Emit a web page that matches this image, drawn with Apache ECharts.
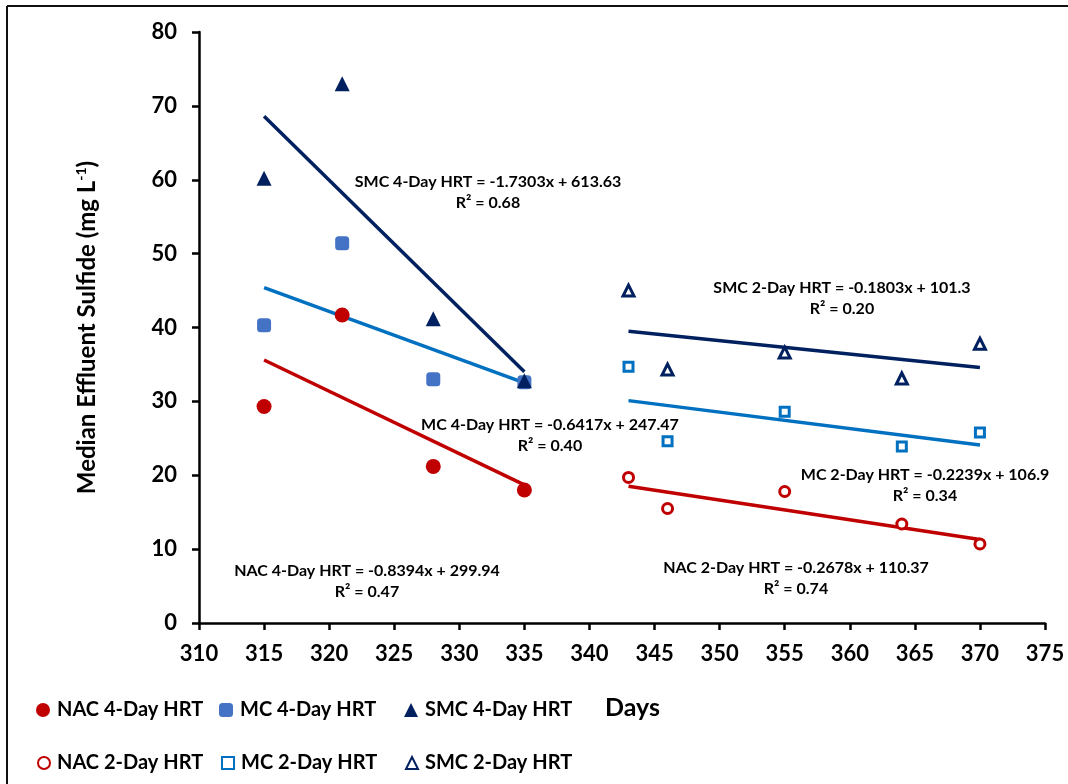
<!DOCTYPE html>
<html>
<head>
    <meta charset="utf-8">
    <title>Median Effluent Sulfide</title>
    <script src="https://cdn.jsdelivr.net/npm/echarts@6/dist/echarts.min.js"></script>
    <style>
        body { margin: 0; background: #fff; }
    </style>
</head>
<body>
    <div id="main" style="width:1068px; height:784px;"></div>
    <script>
        // days of sampling
        var days4 = [315, 321, 328, 335]
        var days2 = [343, 346, 355, 364, 370]

        // median effluent sulfide, mg/L
        var nac4 = [29.3, 41.7, 21.2, 18.0]
        var mc4 = [40.3, 51.4, 33.0, 32.6]
        var smc4 = [60.2, 73.0, 41.2, 32.8]
        var nac2 = [19.7, 15.5, 17.8, 13.4, 10.7]
        var mc2 = [34.7, 24.6, 28.6, 23.9, 25.8]
        var smc2 = [45.0, 34.3, 36.6, 33.1, 37.8]

        // trendline ends
        var trend4Days = [315, 335]
        var trend2Days = [343, 370]
        var nac4Trend = [35.6, 18.7]
        var mc4Trend = [45.4, 32.5]
        var smc4Trend = [68.6, 34.0]
        var nac2Trend = [18.5, 11.3]
        var mc2Trend = [30.1, 24.1]
        var smc2Trend = [39.5, 34.6]

        var names = ['NAC 4-Day HRT', 'MC 4-Day HRT', 'SMC 4-Day HRT',
                     'NAC 2-Day HRT', 'MC 2-Day HRT', 'SMC 2-Day HRT']

        // trendline equations, with where they sit
        var equations = [
            ['SMC 4-Day HRT = -1.7303x + 613.63', 'R² = 0.68', 488, 192],
            ['MC 4-Day HRT = -0.6417x + 247.47', 'R² = 0.40', 550, 435],
            ['NAC 4-Day HRT = -0.8394x + 299.94', 'R² = 0.47', 367, 581],
            ['SMC 2-Day HRT = -0.1803x + 101.3', 'R² = 0.20', 842, 298],
            ['MC 2-Day HRT = -0.2239x + 106.9', 'R² = 0.34', 925, 485],
            ['NAC 2-Day HRT = -0.2678x + 110.37', 'R² = 0.74', 796, 578]
        ]

        var RED = '#C00000'
        var BLUE = '#4472C4'
        var LBLUE = '#0070C0'
        var NAVY = '#002060'
        var FONT = 'Lato'

        var pairs = function(xs, ys) {
            var out = []
            for (var i = 0; i < xs.length; i++) {
                out.push([xs[i], ys[i]])
            }
            return out
        }

        var scatter = function(name, xs, ys, symbol, size, color, hollow) {
            var style = hollow
                ? {color: '#fff', borderColor: color, borderWidth: 3, opacity: 1}
                : {color: color, opacity: 1}
            return {
                name: name,
                type: 'scatter',
                data: pairs(xs, ys),
                symbol: symbol,
                symbolSize: size,
                itemStyle: style,
                z: 3
            }
        }

        var trend = function(xs, ys, color) {
            return {
                type: 'line',
                data: pairs(xs, ys),
                symbol: 'none',
                lineStyle: {color: color, width: 3.5},
                silent: true,
                z: 2
            }
        }

        var legendAt = function(name, left, top, size) {
            return {
                data: [name],
                left: left,
                top: top,
                padding: 0,
                itemWidth: size,
                itemHeight: size,
                itemGap: 0,
                textStyle: {fontFamily: FONT, fontWeight: 'bold', fontSize: 20, color: '#000', padding: [0, 0, 0, 2]}
            }
        }

        var graphics = [
            {type: 'line', shape: {x1: 7, y1: 6, x2: 1068, y2: 6}, style: {stroke: '#111', lineWidth: 2}},
            {type: 'line', shape: {x1: 7, y1: 6, x2: 7, y2: 784}, style: {stroke: '#111', lineWidth: 2}}
        ]
        for (var e of equations) {
            graphics.push({
                type: 'text',
                x: e[2],
                y: e[3],
                style: {
                    text: e[0] + '\n' + e[1],
                    align: 'center',
                    verticalAlign: 'middle',
                    lineHeight: 21,
                    font: 'bold 16px ' + FONT,
                    fill: '#000'
                }
            })
        }

        var element = document.querySelector('#main')
        var myChart = echarts.init(element)

        var option = {
            animation: false,
            backgroundColor: '#fff',
            grid: {left: 199, right: 23, top: 32, bottom: 161},
            legend: [
                legendAt(names[0], 36, 700, 14),
                legendAt(names[1], 219, 700, 14),
                legendAt(names[2], 404, 700, 14),
                legendAt(names[3], 37, 753, 12),
                legendAt(names[4], 221, 753, 12),
                legendAt(names[5], 405, 753, 12)
            ],
            xAxis: {
                type: 'value',
                min: 310,
                max: 375,
                interval: 5,
                name: 'Days',
                nameLocation: 'middle',
                nameGap: 72,
                nameTextStyle: {fontFamily: FONT, fontWeight: 'bold', fontSize: 25, color: '#000', padding: [0, 0, 0, 21]},
                splitLine: {show: false},
                axisLine: {lineStyle: {color: '#000', width: 2.5}},
                axisTick: {length: 7, lineStyle: {color: '#000', width: 2.5}},
                axisLabel: {margin: 20, fontFamily: FONT, fontWeight: 'bold', fontSize: 22, color: '#000'}
            },
            yAxis: {
                type: 'value',
                min: 0,
                max: 80,
                interval: 10,
                name: 'Median Effluent Sulfide (mg L{sup|-1})',
                nameLocation: 'middle',
                nameGap: 99,
                nameTextStyle: {
                    fontFamily: FONT, fontWeight: 'bold', fontSize: 24, color: '#000',
                    rich: {sup: {fontFamily: FONT, fontWeight: 'bold', fontSize: 14, color: '#000', padding: [0, 0, 12, 0]}}
                },
                splitLine: {show: false},
                axisLine: {show: true, lineStyle: {color: '#000', width: 2.5}},
                axisTick: {show: true, length: 7, lineStyle: {color: '#000', width: 2.5}},
                axisLabel: {margin: 22, fontFamily: FONT, fontWeight: 'bold', fontSize: 22, color: '#000'}
            },
            series: [
                trend(trend4Days, nac4Trend, RED),
                trend(trend4Days, mc4Trend, LBLUE),
                trend(trend4Days, smc4Trend, NAVY),
                trend(trend2Days, nac2Trend, RED),
                trend(trend2Days, mc2Trend, LBLUE),
                trend(trend2Days, smc2Trend, NAVY),
                scatter(names[0], days4, nac4, 'circle', 15, RED, false),
                scatter(names[1], days4, mc4, 'roundRect', 14, BLUE, false),
                scatter(names[2], days4, smc4, 'triangle', 15, NAVY, false),
                scatter(names[3], days2, nac2, 'circle', 10, RED, true),
                scatter(names[4], days2, mc2, 'rect', 9, LBLUE, true),
                scatter(names[5], days2, smc2, 'triangle', 11, NAVY, true)
            ],
            graphic: graphics
        }

        myChart.setOption(option)
    </script>
</body>
</html>
